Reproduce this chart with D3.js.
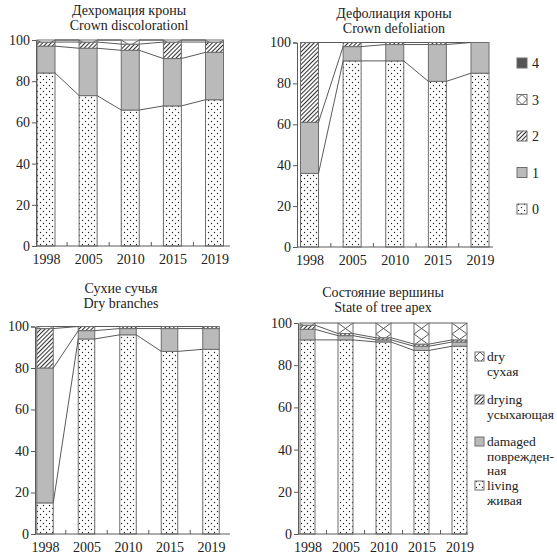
<!DOCTYPE html>
<html>
<head>
<meta charset="utf-8">
<script src="https://cdn.jsdelivr.net/npm/d3@7"></script>
<style>
body { margin: 0; background: #fff; }
text { font-family: "Liberation Serif", "DejaVu Serif", serif; fill: #222; }
</style>
</head>
<body>
<svg id="chart" width="557" height="555"></svg>
<script>
const years = ["1998", "2005", "2010", "2015", "2019"];

// crown discoloration, classes 0..4 (%)
const disc0 = [84, 73, 66, 68, 71];
const disc1 = [13, 23, 29, 23, 23];
const disc2 = [2, 3, 3, 8, 5];
const disc3 = [1, 1, 2, 1, 1];
const disc4 = [0, 0, 0, 0, 0];

// crown defoliation, classes 0..4 (%)
const defo0 = [36, 91, 91, 81, 85];
const defo1 = [25, 7, 8, 18, 15];
const defo2 = [39, 2, 1, 1, 0];
const defo3 = [0, 0, 0, 0, 0];
const defo4 = [0, 0, 0, 0, 0];

// dry branches, classes 0..4 (%)
const dryb0 = [15, 94, 96, 88, 89];
const dryb1 = [65, 4, 3, 11, 10];
const dryb2 = [19, 2, 1, 1, 1];
const dryb3 = [1, 0, 0, 0, 0];
const dryb4 = [0, 0, 0, 0, 0];

// state of tree apex (%)
const apexLiving = [92, 92, 91, 87, 89];
const apexDamaged = [5, 2, 1, 2, 2];
const apexDrying = [2, 1, 1, 1, 1];
const apexDry = [1, 5, 7, 10, 8];

const yTicks = [0, 20, 40, 60, 80, 100];
const classKeys = ["4", "3", "2", "1", "0"];
const apexLegend = [
    ["dry", "сухая"],
    ["drying", "усыхающая"],
    ["damaged", "поврежден-", "ная"],
    ["living", "живая"],
];

const colorGray = "#bababa";
const colorDark = "#555";
const colorEdge = "#6e6e6e";
const colorLine = "#5a5a5a";

const svg = d3.select("#chart");
const defs = svg.append("defs");

// dotted fill
const dots = defs.append("pattern")
    .attr("id", "dots")
    .attr("patternUnits", "userSpaceOnUse")
    .attr("width", 6).attr("height", 6);
dots.append("rect").attr("width", 6).attr("height", 6).attr("fill", "#fff");
dots.selectAll("circle").data([[1.5, 1.5], [4.5, 4.5]]).enter()
    .append("circle")
    .attr("cx", d => d[0]).attr("cy", d => d[1])
    .attr("r", 0.7).attr("fill", "#222");

// diagonal hatch
const hatch = defs.append("pattern")
    .attr("id", "hatch")
    .attr("patternUnits", "userSpaceOnUse")
    .attr("width", 3).attr("height", 3)
    .attr("patternTransform", "rotate(45)");
hatch.append("rect").attr("width", 3).attr("height", 3).attr("fill", "#fff");
hatch.append("line")
    .attr("x1", 0.5).attr("y1", 0).attr("x2", 0.5).attr("y2", 3)
    .attr("stroke", "#333").attr("stroke-width", 1.1);

// small cross pattern for legend icons
const crossSmall = defs.append("pattern")
    .attr("id", "cross-small")
    .attr("patternUnits", "userSpaceOnUse")
    .attr("width", 10).attr("height", 10)
    .attr("x", 5).attr("y", 5);
crossSmall.append("rect").attr("width", 10).attr("height", 10).attr("fill", "#fff");
crossSmall.append("path").attr("d", "M0,0L10,10M10,0L0,10")
    .attr("stroke", "#444").attr("stroke-width", 0.9);

let crossCount = 0;
function crossFill(left, top, w) {
    const id = "cross-" + (crossCount++);
    const p = defs.append("pattern")
        .attr("id", id)
        .attr("patternUnits", "userSpaceOnUse")
        .attr("x", left).attr("y", top)
        .attr("width", w).attr("height", 11);
    p.append("rect").attr("width", w).attr("height", 11).attr("fill", "#fff");
    p.append("path").attr("d", `M0,0L${w},11M${w},0L0,11`)
        .attr("stroke", "#444").attr("stroke-width", 0.9);
    return `url(#${id})`;
}

const fills = ["url(#dots)", colorGray, "url(#hatch)", "cross", colorDark];

function drawPanel(cfg, series, title) {
    const g = svg.append("g");
    const y = d3.scaleLinear().domain([0, 100]).range([cfg.yBot, cfg.yTop]);
    const x = d3.scalePoint().domain(years).range([cfg.cx0, cfg.cx1]);
    const bw = cfg.bw;

    const rows = years.map((yr, i) => ({year: yr, i: i}));
    const stacked = d3.stack()
        .keys(d3.range(series.length))
        .value((d, k) => series[k][d.i])(rows);

    // bars
    stacked.forEach((layer, k) => {
        g.append("g").selectAll("rect")
            .data(layer.filter(d => d[1] > d[0]))
            .enter()
            .append("rect")
            .attr("x", d => x(d.data.year) - bw / 2)
            .attr("y", d => y(d[1]))
            .attr("width", bw)
            .attr("height", d => y(d[0]) - y(d[1]))
            .attr("fill", d => fills[k] === "cross"
                ? crossFill(x(d.data.year) - bw / 2, y(100), bw) : fills[k])
            .attr("stroke", colorEdge)
            .attr("stroke-width", 1);
    });

    // series lines between bars
    stacked.forEach(layer => {
        const pairs = d3.pairs(layer);
        g.append("g").selectAll("line")
            .data(pairs)
            .enter()
            .append("line")
            .attr("x1", d => x(d[0].data.year) + bw / 2)
            .attr("y1", d => y(d[0][1]))
            .attr("x2", d => x(d[1].data.year) - bw / 2)
            .attr("y2", d => y(d[1][1]))
            .attr("stroke", colorLine)
            .attr("stroke-width", 1);
    });

    // axes
    const ya = g.append("g")
        .attr("transform", `translate(${cfg.x0},0)`)
        .call(d3.axisLeft(y).tickValues(yTicks).tickSize(4).tickPadding(2));
    const xa = g.append("g")
        .attr("transform", `translate(0,${cfg.yBot})`)
        .call(d3.axisBottom(x).tickSize(0).tickPadding(8));
    xa.select(".domain").remove();
    xa.append("line")
        .attr("x1", cfg.x0).attr("x2", cfg.x1)
        .attr("stroke", colorLine);
    // small inward ticks between the bars
    xa.selectAll(".gap")
        .data(d3.pairs(years))
        .enter()
        .append("line")
        .attr("class", "gap")
        .attr("x1", d => (x(d[0]) + x(d[1])) / 2)
        .attr("x2", d => (x(d[0]) + x(d[1])) / 2)
        .attr("y1", 0).attr("y2", -4)
        .attr("stroke", colorLine);
    [ya, xa].forEach(a => {
        a.selectAll(".domain").attr("stroke", colorLine);
        a.selectAll(".tick line").attr("stroke", colorLine);
        a.selectAll("text")
            .style("font-family", '"Liberation Serif", serif')
            .style("font-size", "14px")
            .attr("fill", "#222");
    });

    g.selectAll(".title")
        .data(title)
        .enter()
        .append("text")
        .attr("class", "title")
        .attr("x", cfg.tx)
        .attr("y", (d, i) => cfg.ty + i * 15)
        .attr("text-anchor", "middle")
        .style("font-size", "14px")
        .text(d => d);
}

drawPanel({x0: 36, x1: 230, cx0: 46, cx1: 214.5, yTop: 40, yBot: 246, bw: 18, tx: 129, ty: 15},
    [disc0, disc1, disc2, disc3, disc4], ["Дехромация кроны", "Crown discolorationl"]);
drawPanel({x0: 297, x1: 493, cx0: 309.5, cx1: 480, yTop: 42.5, yBot: 247, bw: 18, tx: 394, ty: 18},
    [defo0, defo1, defo2, defo3, defo4], ["Дефолиация кроны", "Crown defoliation"]);
drawPanel({x0: 35, x1: 230, cx0: 45, cx1: 211, yTop: 326.5, yBot: 534, bw: 16.5, tx: 121, ty: 293},
    [dryb0, dryb1, dryb2, dryb3, dryb4], ["Сухие сучья", "Dry branches"]);
drawPanel({x0: 298, x1: 468, cx0: 307.5, cx1: 459.5, yTop: 323, yBot: 534, bw: 15, tx: 383, ty: 297},
    [apexLiving, apexDamaged, apexDrying, apexDry], ["Состояние вершины", "State of tree apex"]);

// legend: classes
const legY = d3.scalePoint().domain(classKeys).range([63, 209]);
const legFill = {"4": colorDark, "3": "url(#cross-small)", "2": "url(#hatch)", "1": colorGray, "0": "url(#dots)"};
const leg = svg.append("g").selectAll("g")
    .data(classKeys).enter().append("g")
    .attr("transform", d => `translate(517,${legY(d)})`);
leg.append("rect")
    .attr("x", 0).attr("y", -5).attr("width", 10).attr("height", 10)
    .attr("fill", d => legFill[d])
    .attr("stroke", colorEdge);
leg.append("text")
    .attr("x", 15).attr("y", 5)
    .style("font-size", "14px")
    .text(d => d);

// legend: apex
const apexFill = ["url(#cross-small)", "url(#hatch)", colorGray, "url(#dots)"];
const apexY = [357, 400, 442, 486];
const leg2 = svg.append("g").selectAll("g")
    .data(apexLegend).enter().append("g")
    .attr("transform", (d, i) => `translate(475,${apexY[i]})`);
leg2.append("rect")
    .attr("x", 0).attr("y", -5).attr("width", 9).attr("height", 9)
    .attr("fill", (d, i) => apexFill[i])
    .attr("stroke", colorEdge);
leg2.each(function(d) {
    d3.select(this).selectAll("text")
        .data(d).enter().append("text")
        .attr("x", 12)
        .attr("y", (t, j) => 4 + j * 14.5)
        .style("font-size", "13.5px")
        .text(t => t);
});
</script>
</body>
</html>
